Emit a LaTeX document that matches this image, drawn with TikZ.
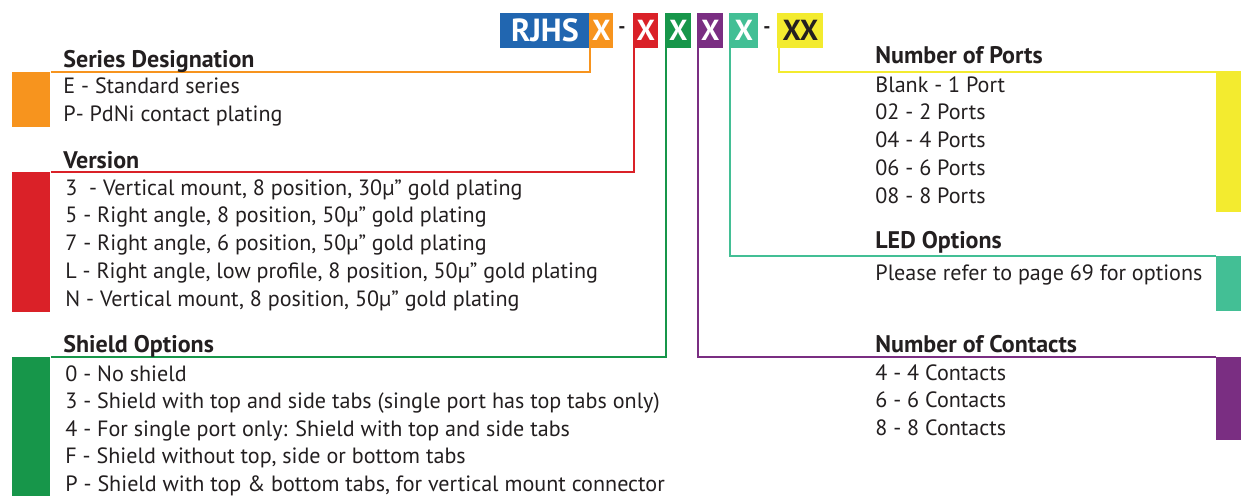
\documentclass[tikz,border=0pt]{standalone}
\usepackage{fontspec}
\setmainfont{PT Sans}
\usetikzlibrary{positioning}
\definecolor{rjblue}{HTML}{2166B0}
\definecolor{rjorange}{HTML}{F7941E}
\definecolor{rjred}{HTML}{DA2128}
\definecolor{rjgreen}{HTML}{17964A}
\definecolor{rjpurple}{HTML}{7A2E82}
\definecolor{rjteal}{HTML}{43BF95}
\definecolor{rjyellow}{HTML}{F3EB2F}
\definecolor{ink}{HTML}{231F20}
\tikzset{
  codebox/.style={fill=#1, text=white, inner sep=0pt, minimum height=17.5pt,
    anchor=west, font=\bfseries\fontsize{14.5}{14}\selectfont},
  tabblock/.style={fill=#1, inner sep=0pt, minimum width=19pt},
  leader/.style={draw=#1, line width=1pt},
  heading/.style={anchor=base west, inner sep=0pt, text=ink,
    font=\bfseries\fontsize{12}{14}\selectfont},
  item/.style={anchor=base west, inner sep=0pt, text=ink,
    font=\fontsize{11.05}{13}\selectfont},
}
\begin{document}
\begin{tikzpicture}[x=0.5pt,y=-0.5pt]
    \useasboundingbox (0,0) rectangle (1241,495);
    % part number
    \node[codebox=rjblue, minimum width=44.5pt, font=\bfseries\fontsize{16}{16}\selectfont] (rjhs) at (500,30.5) {RJHS};
    \node[codebox=rjorange, minimum width=12pt] (series) at (589,30.5) {X};
    \node[text=ink, font=\bfseries] (dash1) at (622,30.5) {-};
    \node[codebox=rjred, minimum width=12.5pt] (version) at (633,30.5) {X};
    \node[codebox=rjgreen, minimum width=13pt] (shield) at (665,30.5) {X};
    \node[codebox=rjpurple, minimum width=13pt] (contacts) at (697,30.5) {X};
    \node[codebox=rjteal, minimum width=14.5pt] (led) at (729,30.5) {X};
    \node[text=ink, font=\bfseries] (dash2) at (767,30.5) {-};
    \node[codebox=rjyellow, text=ink, minimum width=23pt] (ports) at (777,30.5) {XX};

    % colour tabs
    \node[tabblock=rjorange, minimum height=27.5pt, anchor=north west] (serTab) at (12,72) {};
    \node[tabblock=rjred, minimum height=70pt, anchor=north west] (verTab) at (12,172) {};
    \node[tabblock=rjgreen, minimum height=70pt, anchor=north west] (shdTab) at (12,357) {};
    \node[tabblock=rjyellow, minimum width=12.5pt, minimum height=70pt, anchor=north west] (prtTab) at (1216,72) {};
    \node[tabblock=rjteal, minimum width=12.5pt, minimum height=27.5pt, anchor=north west] (ledTab) at (1216,256) {};
    \node[tabblock=rjpurple, minimum width=12.5pt, minimum height=41.5pt, anchor=north west] (cntTab) at (1216,357) {};

    % leaders
    \draw[leader=rjorange] ([xshift=0.5pt]series.south west) |- (serTab.north east);
    \draw[leader=rjred] ([xshift=0.5pt]version.south west) |- (verTab.north east);
    \draw[leader=rjgreen] ([xshift=0.5pt]shield.south west) |- (shdTab.north east);
    \draw[leader=rjpurple] ([xshift=0.5pt]contacts.south west) |- (cntTab.north west);
    \draw[leader=rjteal] ([xshift=0.5pt]led.south west) |- (ledTab.north west);
    \draw[leader=rjyellow] ([xshift=1pt]ports.south west) |- (prtTab.north east);

    % left column
    \node[heading] (serHead) at (63,67) {Series Designation};
    \node[item] (ser1) at (63,93) {E - Standard series};
    \node[item] (ser2) at (63,121) {P- PdNi contact plating};

    \node[heading] (verHead) at (63,168) {Version};
    \foreach \t [count=\i] in {{3\ \ - Vertical mount, 8 position, 30µ” gold plating},
        {5 - Right angle, 8 position, 50µ” gold plating},
        {7 - Right angle, 6 position, 50µ” gold plating},
        {L - Right angle, low profile, 8 position, 50µ” gold plating},
        {N - Vertical mount, 8 position, 50µ” gold plating}}
        \node[item] (ver\i) at (65,{195+27.8*(\i-1)}) {\t};

    \node[heading] (shdHead) at (63,352) {Shield Options};
    \foreach \t [count=\i] in {{0 - No shield},
        {3 - Shield with top and side tabs (single port has top tabs only)},
        {4 - For single port only: Shield with top and side tabs},
        {F - Shield without top, side or bottom tabs},
        {P - Shield with top \& bottom tabs, for vertical mount connector}}
        \node[item] (shd\i) at (65,{381+27.5*(\i-1)}) {\t};

    % right column
    \node[heading] (prtHead) at (875,63) {Number of Ports};
    \foreach \t [count=\i] in {Blank - 1 Port, 02 - 2 Ports, 04 - 4 Ports,
        06 - 6 Ports, 08 - 8 Ports}
        \node[item] (prt\i) at (875,{92+27.8*(\i-1)}) {\t};

    \node[heading] (ledHead) at (875,248) {LED Options};
    \node[item] (led1) at (875,280) {Please refer to page 69 for options};

    \node[heading] (cntHead) at (875,352) {Number of Contacts};
    \foreach \t [count=\i] in {4 - 4 Contacts, 6 - 6 Contacts, 8 - 8 Contacts}
        \node[item] (cnt\i) at (875,{380+27.75*(\i-1)}) {\t};
\end{tikzpicture}
\end{document}
